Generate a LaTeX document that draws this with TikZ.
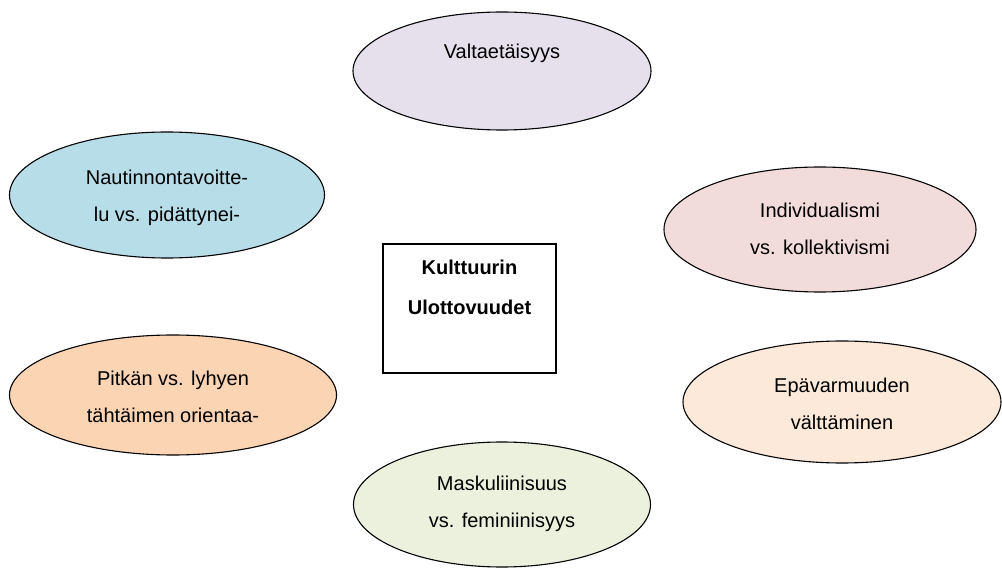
\documentclass[tikz,border=0pt]{standalone}
\usepackage{fontspec}
\setmainfont{Liberation Sans}
\usetikzlibrary{shapes.geometric}

\definecolor{lila}{HTML}{E5E0EC}
\definecolor{sininen}{HTML}{B7DDE8}
\definecolor{roosa}{HTML}{F2DCDB}
\definecolor{persikka}{HTML}{FBD4B4}
\definecolor{vaalea}{HTML}{FDE9D9}
\definecolor{vihrea}{HTML}{EBF1DD}

\begin{document}
\begin{tikzpicture}[x=1pt,y=-1pt,
    ulottuvuus/.style={ellipse,draw,line width=1.1pt,inner sep=0pt},
    teksti/.style={align=center,font=\fontsize{20}{37}\selectfont}]
\tikzstyle{keskus}=[draw,line width=1.1pt,minimum width=173pt,minimum height=129pt]
\useasboundingbox (0,0) rectangle (1002,569);
% ellipsit
\node[ulottuvuus,fill=lila,minimum width=298pt,minimum height=118pt] (valta) at (502,71) {};
\node[ulottuvuus,fill=sininen,minimum width=315pt,minimum height=126pt] (nautinto) at (167,195) {};
\node[ulottuvuus,fill=roosa,minimum width=312pt,minimum height=125pt] (indiv) at (820,229.5) {};
\node[ulottuvuus,fill=persikka,minimum width=327pt,minimum height=120pt] (pitka) at (173,395) {};
\node[ulottuvuus,fill=vaalea,minimum width=318pt,minimum height=122pt] (epavarmuus) at (842,402) {};
\node[ulottuvuus,fill=vihrea,minimum width=297pt,minimum height=125pt] (masku) at (502,504.5) {};
% tekstit
\node[teksti] (valta-t) at (502,53) {Valtaetäisyys};
\node[teksti] (nautinto-t) at (167,198) {Nautinnontavoitte-\\lu vs. pidättynei-};
\node[teksti] (indiv-t) at (820,228.5) {Individualismi\\vs. kollektivismi};
\node[teksti] (pitka-t) at (173,396.5) {Pitkän vs. lyhyen\\tähtäimen orientaa-};
\node[teksti] (epavarmuus-t) at (842,403.5) {Epävarmuuden\\välttäminen};
\node[teksti] (masku-t) at (502,503.5) {Maskuliinisuus\\vs. feminiinisyys};
% keskella
\node[keskus] (kulttuuri) at (469.5,308.5) {};
\node[teksti,font=\fontsize{20}{40}\selectfont\bfseries] (kulttuuri-t) at (469.5,287) {Kulttuurin\\Ulottovuudet};
\end{tikzpicture}
\end{document}
